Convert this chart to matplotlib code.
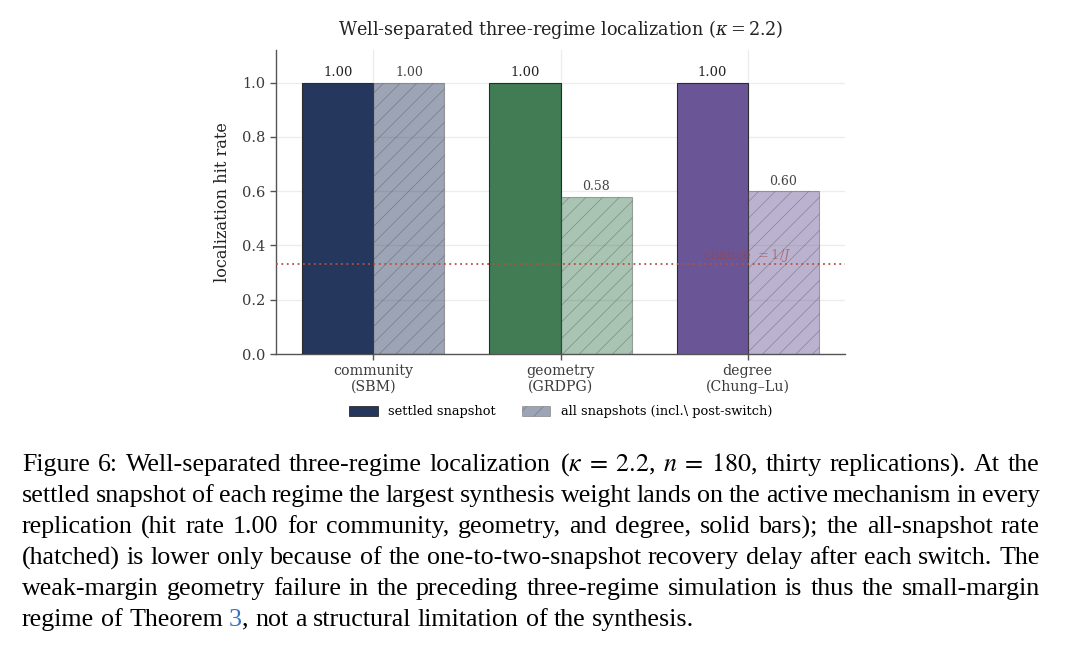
import math
import matplotlib
matplotlib.use("Agg")
import matplotlib.pyplot as plt
from matplotlib.patches import Patch
from matplotlib.font_manager import FontProperties
import numpy as np

# ---- data ----
categories = ["community\n(SBM)", "geometry\n(GRDPG)", "degree\n(Chung–Lu)"]
settled = [1.00, 1.00, 1.00]
all_snap = [1.00, 0.58, 0.60]
chance = 1.0 / 3.0
yticks = [0.0, 0.2, 0.4, 0.6, 0.8, 1.0]
colors = ["#25375c", "#417c55", "#6a5697"]

caption_lines = [
    ["Figure", "6:", "Well-separated", "three-regime", "localization", "($\\kappa\\;=\\;2.2$,", "$n\\;=\\;180$,",
     "thirty", "replications).", "At", "the"],
    "settled snapshot of each regime the largest synthesis weight lands on the active mechanism in every".split(),
    "replication (hit rate 1.00 for community, geometry, and degree, solid bars); the all-snapshot rate".split(),
    "(hatched) is lower only because of the one-to-two-snapshot recovery delay after each switch. The".split(),
    "weak-margin geometry failure in the preceding three-regime simulation is thus the small-margin".split(),
    ["regime", "of", "Theorem", [("3", "#3b6fc4"), (",", "black")], "not", "a", "structural",
     "limitation", "of", "the", "synthesis."],
]

plt.rcParams["hatch.linewidth"] = 0.5

W, H = 1080, 648
fig = plt.figure(figsize=(W / 100, H / 100), dpi=100)
fig.patch.set_facecolor("white")

serif = ["DejaVu Serif"]
ax = fig.add_axes([276 / W, 1 - 354 / H, (845 - 276) / W, (354 - 50) / H])
x = np.arange(len(categories))
w = 0.38
ax.set_axisbelow(True)
for i in range(len(categories)):
    ax.bar(x[i] - w / 2, settled[i], w, color=colors[i], edgecolor="#2b2b2b", linewidth=0.8, zorder=3)
    ax.bar(x[i] + w / 2, all_snap[i], w, color=colors[i], alpha=0.45, edgecolor="#4a4a4a",
           linewidth=0.8, hatch="//", zorder=3)
    ax.text(x[i] - w / 2, settled[i] + 0.013, f"{settled[i]:.2f}", ha="center", va="bottom",
            fontsize=9.5, family=serif, color="#222222")
    ax.text(x[i] + w / 2, all_snap[i] + 0.013, f"{all_snap[i]:.2f}", ha="center", va="bottom",
            fontsize=9, family=serif, color="#444444")

ax.axhline(chance, color="#b5523b", linestyle=(0, (1, 2)), linewidth=1.3, zorder=4)
ax.text(2.0, chance, "chance $=1/J$", ha="center", va="bottom", fontsize=9.5,
        family=serif, color="#a0413a", alpha=0.55, zorder=5, math_fontfamily="dejavuserif")

ax.set_xlim(-0.52, 2.52)
ax.set_ylim(0, 1.12)
ax.set_yticks(yticks)
ax.set_yticklabels([f"{v:.1f}" for v in yticks], family=serif, fontsize=10.5, color="#3a3a3a")
ax.set_xticks(x)
ax.set_xticklabels(categories, family=serif, fontsize=10.2, color="#3a3a3a", linespacing=1.1)
ax.set_ylabel("localization hit rate", family=serif, fontsize=11.6, color="#222222", labelpad=8)
ax.set_title("Well-separated three-regime localization ($\\kappa=2.2$)", family=serif,
             fontsize=12.7, color="#222222", pad=11, math_fontfamily="dejavuserif")
ax.grid(True, color="#ececec", linewidth=0.9)
for s in ["top", "right"]:
    ax.spines[s].set_visible(False)
for s in ["left", "bottom"]:
    ax.spines[s].set_color("#555555")
    ax.spines[s].set_linewidth(1.0)
ax.tick_params(axis="both", color="#555555", length=4, width=1)

handles = [Patch(facecolor=colors[0], edgecolor="#2b2b2b", linewidth=0.6),
           Patch(facecolor=colors[0], alpha=0.45, edgecolor="#4a4a4a", linewidth=0.6, hatch="//")]
leg = ax.legend(handles, ["settled snapshot", "all snapshots (incl.\\ post-switch)"],
                loc="center", bbox_to_anchor=(0.5, -0.19), ncol=2, frameon=False,
                prop={"family": serif, "size": 9.35}, columnspacing=2.0, handlelength=2.2,
                handleheight=0.8)

# ---- caption, justified word by word ----
cap_font = {"family": "Liberation Serif", "size": 18.7}
renderer = fig.canvas.get_renderer()
left_px, right_px = 22, 1040
base0, step = 471, 31


def baseline_error(txt):
    """Pixel offset of the raster baseline that Agg produces for plain text."""
    if "$" in txt:
        return 0
    try:
        from matplotlib.backends.backend_agg import get_hinting_flag
        font = renderer._prepare_font(FontProperties(**cap_font))
        font.set_text(txt, 0, flags=get_hinting_flag())
        d = font.get_descent() / 64.0
        hh = font.get_width_height()[1] / 64.0
        a = hh - d
        return round(d) - math.floor(a + d) + math.floor(a)
    except Exception:
        return 0


def make_word(word, ypx):
    segs = word if isinstance(word, list) else [(word, "black")]
    arts, total = [], 0.0
    for txt, col in segs:
        err = baseline_error(txt)
        t = fig.text(0, 1 - (ypx - err) / H, txt, color=col, va="baseline", ha="left",
                     math_fontfamily="stix", **cap_font)
        wpx = t.get_window_extent(renderer).width
        total += wpx
        arts.append((t, wpx))
    return arts, total


sp = fig.text(0, 0, "a a", **cap_font)
sp_w = sp.get_window_extent(renderer).width
sp2 = fig.text(0, 0, "aa", **cap_font)
sp_w -= sp2.get_window_extent(renderer).width
sp.remove(); sp2.remove()

for li, words in enumerate(caption_lines):
    y = base0 + li * step
    arts_list, widths = [], []
    for wd in words:
        arts, wpx = make_word(wd, y)
        arts_list.append(arts)
        widths.append(wpx)
    total = sum(widths)
    last = li == len(caption_lines) - 1
    gap = sp_w if last else (right_px - left_px - total) / (len(words) - 1)
    cur = left_px
    for arts, wpx in zip(arts_list, widths):
        off = cur
        for a, wa in arts:
            a.set_x(round(off) / W)
            off += wa
        cur += wpx + gap

fig.savefig("out.png", dpi=100, facecolor="white")
